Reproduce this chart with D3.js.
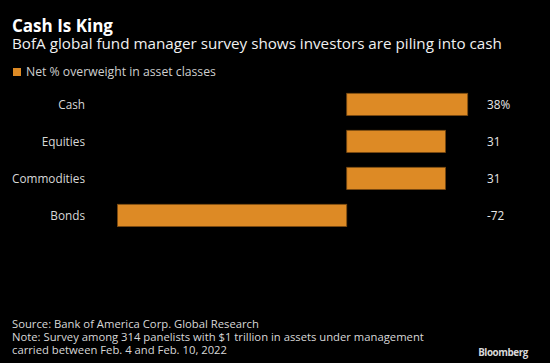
<!DOCTYPE html>
<html><head><meta charset="utf-8">
<script src="https://cdn.jsdelivr.net/npm/d3@7"></script>
<style>
html,body{margin:0;padding:0;background:#000;}
svg{display:block;}
text{font-family:"Open Sans","Liberation Sans",Arial,sans-serif;}
</style></head>
<body>
<svg id="chart" width="550" height="363"></svg>
<script>
const categories = ["Cash", "Equities", "Commodities", "Bonds"];
const values = [38, 31, 31, -72];
const valueLabels = ["38%", "31", "31", "-72"];
const title = "Cash Is King";
const subtitle = "BofA global fund manager survey shows investors are piling into cash";
const legendLabel = "Net % overweight in asset classes";
const footnotes = [
  "Source: Bank of America Corp. Global Research",
  "Note: Survey among 314 panelists with $1 trillion in assets under management",
  "carried between Feb. 4 and Feb. 10, 2022"
];

const svg = d3.select("#chart");
svg.append("rect").attr("width",550).attr("height",363).attr("fill","#000");

const barColor = "#DD8A25";
const barStroke = "#7a4a12";

// scale font size so a text reaches a measured width
function fit(sel, target) {
  const n = sel.node();
  const fs = parseFloat(sel.attr("font-size"));
  const w = n.getComputedTextLength();
  if (w > 0) sel.attr("font-size", (fs * target / w).toFixed(2));
  return sel;
}

const x = d3.scaleLinear().domain([d3.min(values), d3.max(values)]).range([117.5, 467.7]);
const y = d3.scaleBand().domain(categories).range([85.9, 233.9]).paddingInner(0.4).paddingOuter(0.2);

fit(svg.append("text").attr("x",12).attr("y",32).attr("fill","#fff")
  .attr("font-size",15).attr("font-weight","bold").text(title), 101);
fit(svg.append("text").attr("x",12).attr("y",49).attr("fill","#f0f0f0")
  .attr("font-size",14).text(subtitle), 490);

svg.append("rect").attr("x",13).attr("y",68).attr("width",8).attr("height",8).attr("fill",barColor);
fit(svg.append("text").attr("x",26).attr("y",76).attr("fill","#cfcfcf")
  .attr("font-size",12).text(legendLabel), 190);

const g = svg.append("g");
g.selectAll("rect.bar").data(categories).join("rect").attr("class","bar")
  .attr("x", (d,i)=> Math.min(x(0), x(values[i])))
  .attr("width", (d,i)=> Math.abs(x(values[i]) - x(0)))
  .attr("y", d=> y(d))
  .attr("height", y.bandwidth())
  .attr("fill", barColor)
  .attr("stroke", barStroke).attr("stroke-width",0.8);

const cats = g.selectAll("text.cat").data(categories).join("text").attr("class","cat")
  .attr("x",85).attr("y", d=> y(d)+y.bandwidth()/2).attr("dy","0.35em")
  .attr("text-anchor","end").attr("fill","#d8d8d8").attr("font-size",12).text(d=>d);
// size from the widest label ("Commodities" ~73px)
{
  const n = cats.nodes()[2];
  const fs = 12 * 73 / n.getComputedTextLength();
  cats.attr("font-size", fs.toFixed(2));
}

g.selectAll("text.val").data(categories).join("text").attr("class","val")
  .attr("x",487).attr("y", d=> y(d)+y.bandwidth()/2).attr("dy","0.35em")
  .attr("fill","#e8e8e8").attr("font-size",cats.attr("font-size")).text((d,i)=>valueLabels[i]);

const foots = svg.selectAll("text.foot").data(footnotes).join("text").attr("class","foot")
  .attr("x",12).attr("y",(d,i)=>327.5 + i*13).attr("fill","#d8d8d8")
  .attr("font-size",11).text(d=>d);
{
  const n = foots.nodes()[1];
  const fs = 11 * 412 / n.getComputedTextLength();
  foots.attr("font-size", fs.toFixed(2));
}

fit(svg.append("text").attr("x",528).attr("y",355.5).attr("text-anchor","end")
  .attr("fill","#d8d8d8").attr("font-size",12).attr("font-weight","bold")
  .attr("letter-spacing","-0.4").text("Bloomberg"), 50.6);
</script>
</body></html>
